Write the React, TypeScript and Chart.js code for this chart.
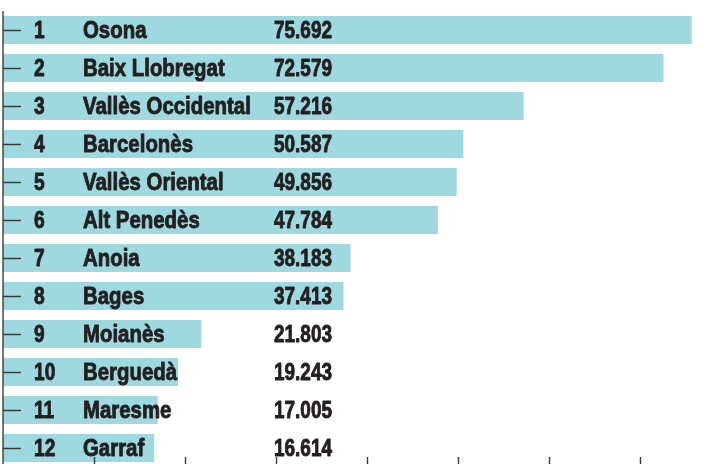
import React, { useEffect, useRef } from "react";
import { Chart, registerables } from "chart.js";

Chart.register(...registerables);

const ranks = ["1", "2", "3", "4", "5", "6", "7", "8", "9", "10", "11", "12"];
const comarques = [
  "Osona",
  "Baix Llobregat",
  "Vallès Occidental",
  "Barcelonès",
  "Vallès Oriental",
  "Alt Penedès",
  "Anoia",
  "Bages",
  "Moianès",
  "Berguedà",
  "Maresme",
  "Garraf",
];
const values = [75692, 72579, 57216, 50587, 49856, 47784, 38183, 37413, 21803, 19243, 17005, 16614];
const xMin = 0;
const xMax = 80000;
const xStep = 10000;

const BAR_COLOR = "#9ed9e0";
const AXIS_COLOR = "#3c3c3c";
const TEXT_COLOR = "#231f20";
const FONT = 'bold 24px "Liberation Sans", Arial, sans-serif';

function fmt(v: number): string {
  const s = String(v);
  return s.length > 3 ? s.slice(0, -3) + "." + s.slice(-3) : s;
}

function drawNarrow(ctx: CanvasRenderingContext2D, text: string, x: number, y: number, sx: number) {
  ctx.save();
  ctx.translate(x, y);
  ctx.scale(sx, 1);
  ctx.fillText(text, 0, 0);
  ctx.strokeText(text, 0, 0);
  ctx.restore();
}

const overlayPlugin = {
  id: "overlay",
  afterDatasetsDraw(chart: any) {
    const { ctx, chartArea, scales } = chart;
    const x = scales.x;
    const y = scales.y;
    const x0 = x.getPixelForValue(0);
    ctx.save();
    ctx.strokeStyle = AXIS_COLOR;
    ctx.lineWidth = 1.4;
    ctx.beginPath();
    ctx.moveTo(x0, chartArea.top);
    ctx.lineTo(x0, chartArea.bottom);
    comarques.forEach((_, i) => {
      const py = Math.round(y.getPixelForValue(i)) + 0.5;
      ctx.moveTo(x0, py);
      ctx.lineTo(x0 + 18, py);
    });
    x.ticks.forEach((t: any) => {
      if (t.value === 0) return;
      const px = Math.round(x.getPixelForValue(t.value)) + 0.5;
      ctx.moveTo(px, chartArea.bottom - 10);
      ctx.lineTo(px, chartArea.bottom);
    });
    ctx.stroke();

    ctx.fillStyle = TEXT_COLOR;
    ctx.strokeStyle = TEXT_COLOR;
    ctx.lineWidth = 0.9;
    ctx.lineJoin = "round";
    ctx.font = FONT;
    ctx.textAlign = "left";
    ctx.textBaseline = "alphabetic";
    comarques.forEach((name, i) => {
      const py = y.getPixelForValue(i) + 8;
      drawNarrow(ctx, ranks[i], x0 + 31, py, 0.8);
      drawNarrow(ctx, name, x0 + 80, py, 0.85);
      drawNarrow(ctx, fmt(values[i]), x0 + 271, py, 0.79);
    });
    ctx.restore();
  },
};

export default function App() {
  const canvasRef = useRef<HTMLCanvasElement | null>(null);

  useEffect(() => {
    const canvas = canvasRef.current;
    if (!canvas) return;
    const chart = new Chart(canvas, {
      type: "bar",
      data: {
        labels: comarques,
        datasets: [
          {
            data: values,
            backgroundColor: BAR_COLOR,
            borderWidth: 0,
            barPercentage: 28 / 38,
            categoryPercentage: 1,
          },
        ],
      },
      options: {
        indexAxis: "y",
        responsive: false,
        animation: false,
        devicePixelRatio: 1,
        layout: { padding: { left: 3, top: 11, right: 0, bottom: 0 } },
        plugins: {
          legend: { display: false },
          tooltip: { enabled: false },
          title: { display: false },
        },
        scales: {
          x: {
            type: "linear",
            display: false,
            min: xMin,
            max: xMax,
            ticks: { stepSize: xStep },
          },
          y: {
            type: "category",
            display: false,
            offset: true,
          },
        },
      },
      plugins: [overlayPlugin],
    });
    return () => chart.destroy();
  }, []);

  return (
    <div
      style={{
        position: "absolute",
        left: 0,
        top: 0,
        width: 728,
        height: 464,
        overflow: "hidden",
        background: "#ffffff",
      }}
    >
      <canvas ref={canvasRef} width={731} height={467} style={{ width: 731, height: 467, display: "block" }} />
    </div>
  );
}
